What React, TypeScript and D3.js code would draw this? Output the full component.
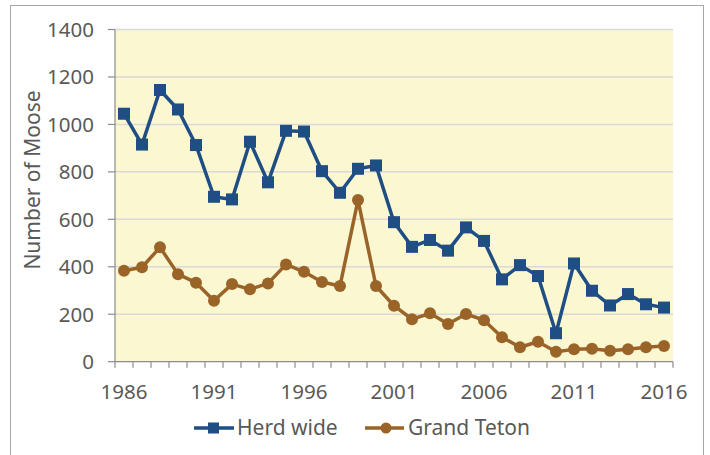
import React from "react";
import * as d3 from "d3";

const years = [1986, 1987, 1988, 1989, 1990, 1991, 1992, 1993, 1994, 1995, 1996, 1997, 1998, 1999, 2000, 2001, 2002, 2003, 2004, 2005, 2006, 2007, 2008, 2009, 2010, 2011, 2012, 2013, 2014, 2015, 2016];
const herdWide = [1045, 915, 1145, 1063, 913, 695, 684, 927, 756, 973, 970, 803, 712, 813, 827, 588, 484, 513, 468, 566, 509, 347, 407, 361, 120, 414, 299, 237, 285, 242, 228];
const grandTeton = [383, 398, 482, 369, 333, 257, 327, 305, 330, 410, 379, 336, 319, 681, 319, 236, 179, 204, 159, 201, 175, 103, 61, 84, 42, 52, 55, 46, 52, 61, 66];
const yTicks = [0, 200, 400, 600, 800, 1000, 1200, 1400];
const xLabelYears = [1986, 1991, 1996, 2001, 2006, 2011, 2016];
const seriesNames = ["Herd wide", "Grand Teton"];

const W = 710, H = 455;
const left = 115, right = 673, top = 29.5, bottom = 361.7;
const BLUE = "#1F4E84";
const BROWN = "#9A6429";
const FONT = "'Noto Sans', 'Open Sans', sans-serif";
const TXT = "#595959";

export default function App() {
  const x = d3.scaleBand<number>().domain(years).range([left, right]);
  const cx = (yr: number) => (x(yr) as number) + x.bandwidth() / 2;
  const y = d3.scaleLinear().domain([0, 1400]).range([bottom, top]);
  const line = d3.line<number>().x((_, i) => cx(years[i])).y((v) => y(v));

  const boundaries = years.map((yr) => x(yr) as number).concat([right]);

  return (
    <svg width={W} height={H} style={{ position: "absolute", left: 0, top: 0, background: "#fff" }}>
      <rect x={10.5} y={5.5} width={693} height={470} fill="none" stroke="#A6A6A6" strokeWidth={1} />
      <rect x={left} y={top} width={right - left} height={bottom - top} fill="#FBF7D0" />
      {yTicks.filter((t) => t > 0).map((t) => (
        <line key={t} x1={left} x2={right} y1={y(t)} y2={y(t)} stroke="#D9D9D9" strokeWidth={1.5} />
      ))}
      {/* axes */}
      <line x1={left} x2={left} y1={top} y2={bottom} stroke="#8C8C8C" strokeWidth={1.2} />
      <line x1={left} x2={right} y1={bottom} y2={bottom} stroke="#8C8C8C" strokeWidth={1.2} />
      {yTicks.map((t) => (
        <g key={t}>
          <line x1={left - 7} x2={left} y1={y(t)} y2={y(t)} stroke="#8C8C8C" strokeWidth={1.2} />
          <text x={94} y={y(t)} dy="0.36em" textAnchor="end" fontFamily={FONT} fontSize={20.5} fill={TXT}>{t}</text>
        </g>
      ))}
      {boundaries.map((b, i) => (
        <line key={i} x1={b} x2={b} y1={bottom} y2={bottom + 6} stroke="#8C8C8C" strokeWidth={1.2} />
      ))}
      {xLabelYears.map((yr) => (
        <text key={yr} x={cx(yr)} y={399} textAnchor="middle" fontFamily={FONT} fontSize={20.5} fill={TXT}>{yr}</text>
      ))}
      <text transform={`translate(40,180) rotate(-90)`} textAnchor="middle" fontFamily={FONT} fontSize={21} fill={TXT}>Number of Moose</text>

      {/* series */}
      <path d={line(grandTeton) || ""} fill="none" stroke={BROWN} strokeWidth={3.5} strokeLinejoin="round" />
      {grandTeton.map((v, i) => (
        <circle key={i} cx={cx(years[i])} cy={y(v)} r={6} fill={BROWN} />
      ))}
      <path d={line(herdWide) || ""} fill="none" stroke={BLUE} strokeWidth={3.5} strokeLinejoin="round" />
      {herdWide.map((v, i) => (
        <rect key={i} x={cx(years[i]) - 6} y={y(v) - 6} width={12} height={12} fill={BLUE} />
      ))}

      {/* legend */}
      <g>
        <line x1={194} x2={234} y1={428} y2={428} stroke={BLUE} strokeWidth={3.5} />
        <rect x={208} y={422.5} width={11} height={11} fill={BLUE} />
        <text x={237} y={435} fontFamily={FONT} fontSize={21} fill={TXT}>{seriesNames[0]}</text>
        <line x1={365} x2={404} y1={428} y2={428} stroke={BROWN} strokeWidth={3.5} />
        <circle cx={386} cy={428} r={5.5} fill={BROWN} />
        <text x={408} y={435} fontFamily={FONT} fontSize={21} fill={TXT}>{seriesNames[1]}</text>
      </g>
    </svg>
  );
}
